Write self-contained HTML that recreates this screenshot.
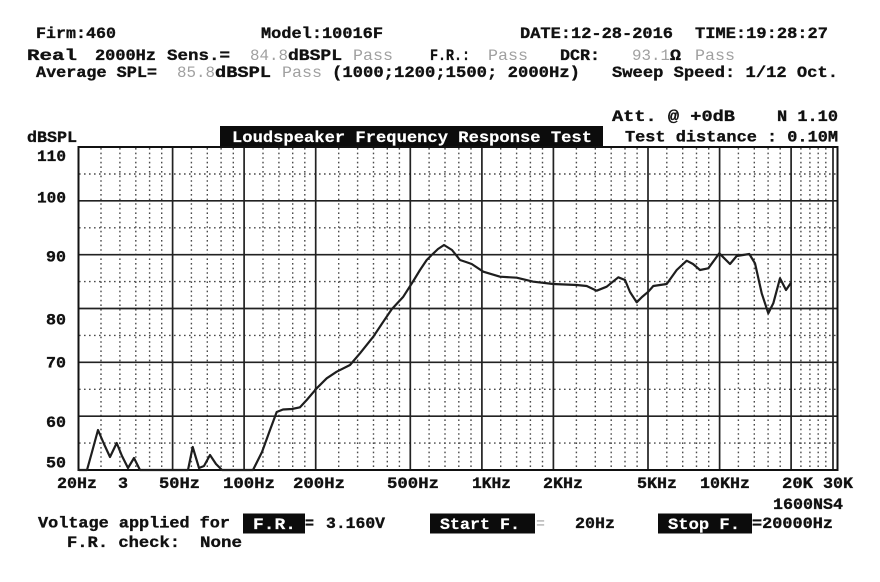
<!DOCTYPE html>
<html>
<head>
<meta charset="utf-8">
<style>
html,body{margin:0;padding:0;background:#fff;}
svg{display:block;}
text{font-family:"Liberation Mono","DejaVu Sans Mono",monospace;font-weight:bold;font-size:16px;fill:#111;stroke:#111;stroke-width:0.35;}
.g{fill:#a0a0a0;stroke:none;font-weight:normal;}
.w{fill:#fff;stroke:#fff;stroke-width:0.2;}
</style>
</head>
<body>
<svg width="880" height="582" viewBox="0 0 880 582" xmlns="http://www.w3.org/2000/svg">
<rect width="880" height="582" fill="#fff"/>

<!-- header line 1 -->
<text x="36" y="38" textLength="80" lengthAdjust="spacingAndGlyphs">Firm:460</text>
<text x="261" y="38" textLength="122" lengthAdjust="spacingAndGlyphs">Model:10016F</text>
<text x="520" y="38" textLength="153" lengthAdjust="spacingAndGlyphs">DATE:12-28-2016</text>
<text x="695" y="38" textLength="133" lengthAdjust="spacingAndGlyphs">TIME:19:28:27</text>

<!-- header line 2 -->
<text x="27" y="60" textLength="50" lengthAdjust="spacingAndGlyphs">Real</text>
<text x="95" y="60" textLength="61" lengthAdjust="spacingAndGlyphs">2000Hz</text>
<text x="167" y="60" textLength="63" lengthAdjust="spacingAndGlyphs">Sens.=</text>
<text class="g" x="250" y="60" textLength="38" lengthAdjust="spacingAndGlyphs">84.8</text>
<text x="288" y="60" textLength="54" lengthAdjust="spacingAndGlyphs">dBSPL</text>
<text class="g" x="353" y="60" textLength="40" lengthAdjust="spacingAndGlyphs">Pass</text>
<text x="430" y="60" textLength="40" lengthAdjust="spacingAndGlyphs">F.R.:</text>
<text class="g" x="488" y="60" textLength="40" lengthAdjust="spacingAndGlyphs">Pass</text>
<text x="560" y="60" textLength="40" lengthAdjust="spacingAndGlyphs">DCR:</text>
<text class="g" x="632" y="60" textLength="38" lengthAdjust="spacingAndGlyphs">93.1</text>
<text x="670" y="60" textLength="11" lengthAdjust="spacingAndGlyphs">Ω</text>
<text class="g" x="695" y="60" textLength="40" lengthAdjust="spacingAndGlyphs">Pass</text>

<!-- header line 3 -->
<text x="36" y="77" textLength="121" lengthAdjust="spacingAndGlyphs">Average SPL=</text>
<text class="g" x="177" y="77" textLength="38" lengthAdjust="spacingAndGlyphs">85.8</text>
<text x="215" y="77" textLength="56" lengthAdjust="spacingAndGlyphs">dBSPL</text>
<text class="g" x="282" y="77" textLength="40" lengthAdjust="spacingAndGlyphs">Pass</text>
<text x="332" y="77" textLength="248" lengthAdjust="spacingAndGlyphs">(1000;1200;1500; 2000Hz)</text>
<text x="612" y="77" textLength="226" lengthAdjust="spacingAndGlyphs">Sweep Speed: 1/12 Oct.</text>

<!-- att / distance -->
<text x="612" y="121" textLength="123" lengthAdjust="spacingAndGlyphs">Att. @  +0dB</text>
<text x="777" y="121" textLength="61" lengthAdjust="spacingAndGlyphs">N 1.10</text>
<text x="625" y="141.5" textLength="213" lengthAdjust="spacingAndGlyphs">Test distance : 0.10M</text>

<!-- title box -->
<rect x="220" y="126" width="383" height="21" fill="#0c0c0c"/>
<text class="w" x="232" y="142" textLength="360" lengthAdjust="spacingAndGlyphs">Loudspeaker Frequency Response Test</text>
<text x="27" y="142" textLength="50" lengthAdjust="spacingAndGlyphs">dBSPL</text>

<!-- y labels -->
<text x="37" y="161" textLength="29" lengthAdjust="spacingAndGlyphs">110</text>
<text x="37" y="202.5" textLength="29" lengthAdjust="spacingAndGlyphs">100</text>
<text x="46" y="261.5" textLength="20" lengthAdjust="spacingAndGlyphs">90</text>
<text x="46" y="324.5" textLength="20" lengthAdjust="spacingAndGlyphs">80</text>
<text x="46" y="367.5" textLength="20" lengthAdjust="spacingAndGlyphs">70</text>
<text x="46" y="427" textLength="20" lengthAdjust="spacingAndGlyphs">60</text>
<text x="46" y="467.5" textLength="20" lengthAdjust="spacingAndGlyphs">50</text>

<!-- dotted horizontal -->
<g stroke="#4a4a4a" stroke-width="1.4" stroke-dasharray="1.6 3.4" fill="none">
<path d="M79 174H837M79 227.8H837M79 281.6H837M79 335.4H837M79 389.3H837M79 443.1H837"/>
</g>
<!-- dotted vertical -->
<g stroke="#4a4a4a" stroke-width="1.4" stroke-dasharray="1.6 3" fill="none">
<path d="M101 148V469M119.9 148V469M135.8 148V469M149.6 148V469M161.7 148V469
M191.4 148V469M207.3 148V469M221.1 148V469M233.3 148V469
M263 148V469M278.9 148V469M292.7 148V469M304.8 148V469
M338.7 148V469M357.6 148V469M373.5 148V469M387.3 148V469M399.4 148V469
M429.1 148V469M445 148V469M458.8 148V469M471 148V469
M500.7 148V469M516.6 148V469M530.4 148V469M542.5 148V469
M576.4 148V469M595.3 148V469M611.2 148V469M625 148V469M637.1 148V469
M666.8 148V469M682.7 148V469M696.5 148V469M708.7 148V469
M738.4 148V469M754.3 148V469M768.1 148V469M780.2 148V469
M800.9 148V469M809.9 148V469M818.2 148V469M825.8 148V469"/>
</g>
<!-- solid grid -->
<g stroke="#222" stroke-width="1.7" fill="none">
<path d="M79 200.8H837M79 254.7H837M79 308.5H837M79 362.3H837M79 416.2H837"/>
<path d="M172.6 147V470M244.1 147V470M315.7 147V470M410.3 147V470M481.9 147V470M553.4 147V470M648 147V470M719.6 147V470M791.1 147V470M833 147V470"/>
</g>
<!-- frame -->
<rect x="78.5" y="147" width="759" height="323" fill="none" stroke="#111" stroke-width="2"/>

<!-- curve -->
<polyline fill="none" stroke="#1e1e1e" stroke-width="2.2" stroke-linejoin="round" stroke-linecap="round"
points="79,470 87,470 92,452 98,430 104,444 110,457 116.7,443 122,456 128,468 134,458 140,470 188,470 192.7,447 199,468 204,466 210,455 216,464 222,470 253,470 262,452 270,430 276.7,412 283,409.5 292,409 300,407.3 306.7,400 316.7,388.3 326.7,378.3 336.7,371.7 350,365 360,353.3 373.3,336.7 383.3,321.7 391.7,309.3 403.3,296.7 413.3,281 420,270 426.7,260 431.7,255 438,249 444,245 452,250 460,260 466,262 471.7,264 483.3,271.7 500,276.7 516.7,277.7 533.3,281.7 553.3,284 576.7,285 586.7,286 596.7,290.7 606.7,286.7 618.3,277.3 625,280 630,292 636.7,302.3 642,297 648.3,291.7 653.3,286 666.7,284 676.7,270 686.7,260.7 693,264 700,270 708.3,268.3 719.3,253.3 730,264 736.7,256 749.3,254 755,263.3 761.7,293.3 768.3,313.3 773.3,303.3 780,278.3 786,290 790.7,283.3"/>

<!-- x labels -->
<text x="57" y="488" textLength="40" lengthAdjust="spacingAndGlyphs">20Hz</text>
<text x="118" y="488" textLength="10" lengthAdjust="spacingAndGlyphs">3</text>
<text x="159" y="488" textLength="41" lengthAdjust="spacingAndGlyphs">50Hz</text>
<text x="223" y="488" textLength="52" lengthAdjust="spacingAndGlyphs">100Hz</text>
<text x="293" y="488" textLength="52" lengthAdjust="spacingAndGlyphs">200Hz</text>
<text x="387" y="488" textLength="52" lengthAdjust="spacingAndGlyphs">500Hz</text>
<text x="472" y="488" textLength="39" lengthAdjust="spacingAndGlyphs">1KHz</text>
<text x="543" y="488" textLength="40" lengthAdjust="spacingAndGlyphs">2KHz</text>
<text x="637" y="488" textLength="40" lengthAdjust="spacingAndGlyphs">5KHz</text>
<text x="700" y="488" textLength="50" lengthAdjust="spacingAndGlyphs">10KHz</text>
<text x="782" y="488" textLength="31" lengthAdjust="spacingAndGlyphs">20K</text>
<text x="823" y="488" textLength="30" lengthAdjust="spacingAndGlyphs">30K</text>
<text x="773" y="509" textLength="70" lengthAdjust="spacingAndGlyphs">1600NS4</text>

<!-- bottom -->
<text x="38" y="527.5" textLength="192" lengthAdjust="spacingAndGlyphs">Voltage applied for</text>
<rect x="243" y="513.5" width="62" height="20" fill="#0c0c0c"/>
<text class="w" x="253" y="529" textLength="43" lengthAdjust="spacingAndGlyphs">F.R.</text>
<text x="305" y="528" textLength="9" lengthAdjust="spacingAndGlyphs">=</text>
<text x="326" y="528" textLength="59" lengthAdjust="spacingAndGlyphs">3.160V</text>
<rect x="430" y="513.5" width="105" height="20" fill="#0c0c0c"/>
<text class="w" x="440" y="529" textLength="80" lengthAdjust="spacingAndGlyphs">Start F.</text>
<text class="g" x="536" y="528" textLength="9" lengthAdjust="spacingAndGlyphs">=</text>
<text x="575" y="528" textLength="40" lengthAdjust="spacingAndGlyphs">20Hz</text>
<rect x="658" y="513.5" width="94" height="20" fill="#0c0c0c"/>
<text class="w" x="668" y="529" textLength="72" lengthAdjust="spacingAndGlyphs">Stop F.</text>
<text x="752" y="528" textLength="81" lengthAdjust="spacingAndGlyphs">=20000Hz</text>
<text x="67" y="547" textLength="113" lengthAdjust="spacingAndGlyphs">F.R. check:</text>
<text x="200" y="547" textLength="42" lengthAdjust="spacingAndGlyphs">None</text>
</svg>
</body>
</html>
